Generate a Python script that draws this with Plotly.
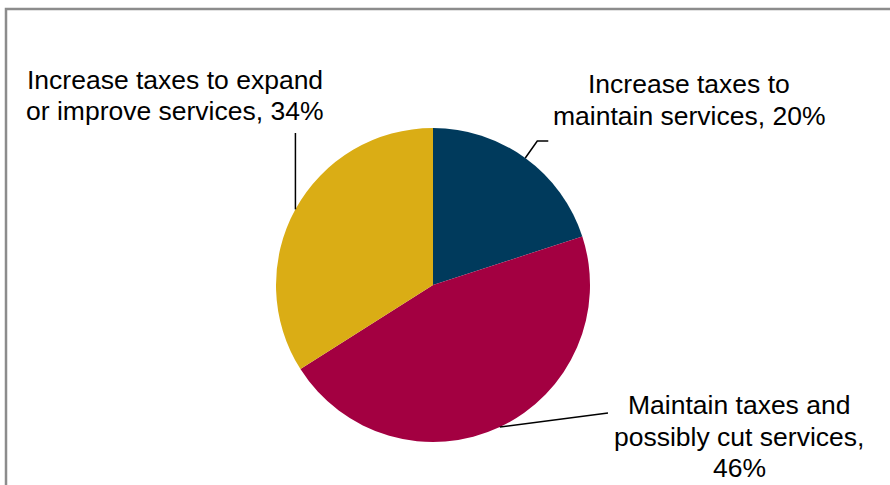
import math
import plotly.graph_objects as go

# Survey responses, in the order drawn clockwise from 12 o'clock
categories = [
    "Increase taxes to maintain services",
    "Maintain taxes and possibly cut services",
    "Increase taxes to expand or improve services",
]
shares = [20, 46, 34]
label_lines = [
    ["Increase taxes to", "maintain services, 20%"],
    ["Maintain taxes and", "possibly cut services,", "46%"],
    ["Increase taxes to expand", "or improve services, 34%"],
]
colors = ["#003A5C", "#A30041", "#DAAD15"]

W, H = 890, 485
CX, CY, R = 433, 285, 157  # pie centre and radius in pixels


def px(x):
    return x / W


def py(y):
    return 1 - y / H


fig = go.Figure(
    go.Pie(
        labels=categories,
        values=shares,
        sort=False,
        direction="clockwise",
        rotation=0,
        marker=dict(colors=colors, line=dict(width=0)),
        textinfo="none",
        hoverinfo="label+percent",
        showlegend=False,
        domain=dict(x=[px(CX - R), px(CX + R)], y=[py(CY + R), py(CY - R)]),
    )
)

# mid-angle of each slice (degrees clockwise from 12 o'clock)
total = sum(shares)
mids = []
acc = 0
for v in shares:
    mids.append((acc + v / 2) / total * 360)
    acc += v


def edge_point(deg):
    a = math.radians(deg)
    return CX + R * math.sin(a), CY - R * math.cos(a)


# label block placement: (centre x, first line centre y)
label_pos = [(689, 84), (739, 405), (175, 80)]
line_h = 31.5
font = dict(family="Liberation Sans, Arial, sans-serif", size=26.5, color="#000000")

annotations = []
for lines, (lx, ly) in zip(label_lines, label_pos):
    for i, t in enumerate(lines):
        annotations.append(dict(
            x=px(lx), y=py(ly + i * line_h), xref="paper", yref="paper",
            text=t, showarrow=False, xanchor="center", yanchor="middle", font=font,
        ))

shapes = []
# leader lines
x0, y0 = edge_point(mids[0])
shapes.append(dict(type="path", xref="paper", yref="paper",
                   path=f"M{px(x0)},{py(y0)} L{px(x0 + 12)},{py(141)} L{px(x0 + 23)},{py(141)}",
                   line=dict(color="#000000", width=1.5)))
x1, y1 = edge_point(mids[1])
shapes.append(dict(type="line", xref="paper", yref="paper",
                   x0=px(x1), y0=py(y1), x1=px(608), y1=py(413),
                   line=dict(color="#000000", width=1.5)))
x2, y2 = edge_point(mids[2])
shapes.append(dict(type="line", xref="paper", yref="paper",
                   x0=px(x2), y0=py(y2), x1=px(x2), y1=py(133),
                   line=dict(color="#000000", width=1.5)))
# chart frame
shapes.append(dict(type="path", xref="paper", yref="paper",
                   path=f"M{px(6)},{py(H + 10)} L{px(6)},{py(9)} L{px(W + 10)},{py(9)}",
                   line=dict(color="#8C8C8C", width=2.5)))

fig.update_layout(
    width=W, height=H,
    margin=dict(l=0, r=0, t=0, b=0),
    paper_bgcolor="#FFFFFF",
    plot_bgcolor="#FFFFFF",
    annotations=annotations,
    shapes=shapes,
)

fig.write_html("out.html")
